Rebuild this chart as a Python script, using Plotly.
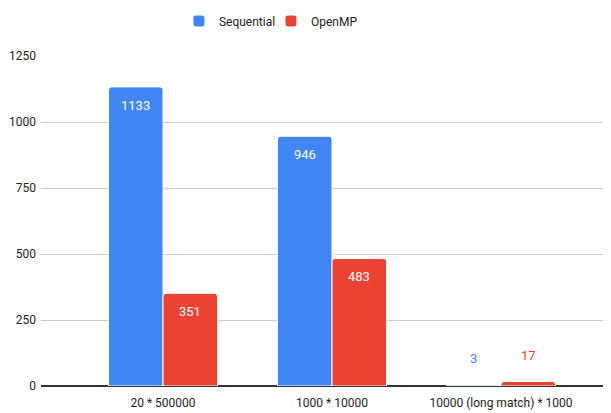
import plotly.graph_objects as go

categories = ["20 * 500000", "1000 * 10000", "10000 (long match) * 1000"]
sequential = [1133, 946, 3]
openmp = [351, 483, 17]
series_names = ["Sequential", "OpenMP"]
y_ticks = [0, 250, 500, 750, 1000, 1250]

colors = ["#4285F4", "#EA4335"]
FONT = "Roboto, Arial, sans-serif"
FS = 12

fig = go.Figure()
for name, vals, col in zip(series_names, [sequential, openmp], colors):
    fig.add_trace(go.Bar(
        x=categories, y=vals, name=name,
        marker=dict(color=col, line=dict(color="white", width=1)),
        hoverinfo="x+y",
    ))

# value labels
bargap = 0.355
half = (1 - bargap) / 2
annotations = []
for si, (vals, col) in enumerate(zip([sequential, openmp], colors)):
    off = -half / 2 if si == 0 else half / 2
    for ci, v in enumerate(vals):
        inside = v > 100
        annotations.append(dict(
            x=ci + off, y=v, xref="x", yref="y", text=str(v), showarrow=False,
            font=dict(family=FONT, size=13, color="white" if inside else col),
            yanchor="top" if inside else "bottom",
            yshift=-9 if inside else 17,
        ))

fig.update_layout(
    width=611, height=413,
    margin=dict(l=33, r=8, t=48, b=35),
    paper_bgcolor="white", plot_bgcolor="white",
    barmode="group", bargap=bargap, bargroupgap=0.0,
    barcornerradius=3,
    font=dict(family=FONT, size=FS, color="#222222"),
    legend=dict(orientation="h", x=0.242, xanchor="left", entrywidth=47,
                yref="container", y=0.9685, yanchor="middle",
                font=dict(family=FONT, size=FS, color="#222222")),
    annotations=annotations,
    xaxis=dict(type="category", range=[-0.722, 2.651], showgrid=False,
               showline=False, ticks="", tickfont=dict(size=FS), automargin=False,
               ticklabelstandoff=8),
    yaxis=dict(range=[0, 1250], tickvals=y_ticks, showgrid=True, gridcolor="#cccccc",
               gridwidth=1, zeroline=True, zerolinecolor="#333333", zerolinewidth=1.5,
               ticks="", ticklabelstandoff=4, tickfont=dict(size=FS), automargin=False),
)

fig.write_html("out.html")
